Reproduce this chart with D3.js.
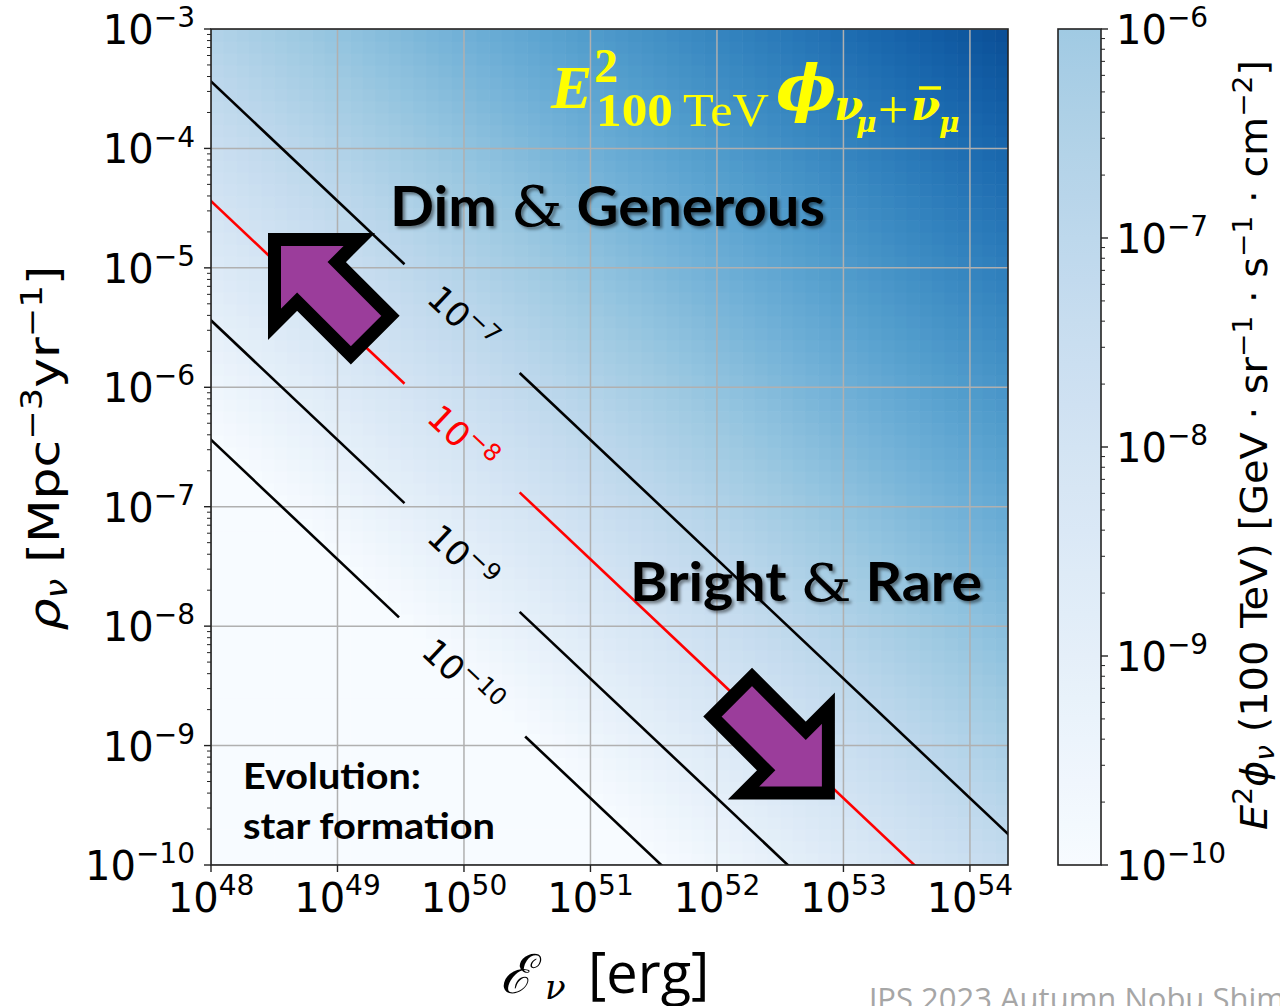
<!DOCTYPE html>
<html>
<head>
<meta charset="utf-8">
<script src="https://cdn.jsdelivr.net/npm/d3@7/dist/d3.min.js"></script>
<style>
  body { margin: 0; background: #fff; }
  svg { display: block; }
</style>
</head>
<body>
<script>
// values (all in log10)
var energyTicks = [48, 49, 50, 51, 52, 53, 54];          // erg
var rateTicks = [-10, -9, -8, -7, -6, -5, -4, -3];        // Mpc^-3 yr^-1
var fluxTicks = [-10, -9, -8, -7, -6];                     // GeV sr^-1 s^-1 cm^-2
var contourLevels = [-7, -8, -9, -10];
var highlightLevel = -8;
var energyDomain = [48, 54.301];
var rateDomain = [-10, -3];
var refLevel = -8, refRhoE = 43.56;   // the 1e-8 contour sits on rho*E = 10^43.56
var colorTop = 1;                      // log10 flux that maps to the darkest blue
var cellStep = 0.1;                    // decades per mesh cell

var W = 1280, H = 1006;
var margin = {left: 211, top: 29, right: 1008, bottom: 865};

var svg = d3.select("body").append("svg")
    .attr("width", W).attr("height", H)
    .style("font-family", "'DejaVu Sans', sans-serif");

var defs = svg.append("defs");
defs.append("clipPath").attr("id", "plotclip")
  .append("rect")
    .attr("x", margin.left).attr("y", margin.top)
    .attr("width", margin.right - margin.left)
    .attr("height", margin.bottom - margin.top);
var shadow = defs.append("filter").attr("id", "shadow")
    .attr("x", "-10%").attr("y", "-20%").attr("width", "130%").attr("height", "160%");
shadow.append("feDropShadow")
    .attr("dx", 2.5).attr("dy", 2.5).attr("stdDeviation", 1.6)
    .attr("flood-color", "#000").attr("flood-opacity", 0.45);

var x = d3.scaleLog().domain(energyDomain.map(function(d) { return Math.pow(10, d); }))
    .range([margin.left, margin.right]);
var y = d3.scaleLog().domain(rateDomain.map(function(d) { return Math.pow(10, d); }))
    .range([margin.bottom, margin.top]);

function fluxAt(logE, logRho) {
  return refLevel + (logE + logRho - refRhoE);
}
function colorOf(logFlux) {
  var t = (logFlux - fluxTicks[0]) / (colorTop - fluxTicks[0]);
  return d3.interpolateBlues(Math.max(0, Math.min(1, t)));
}

// ---- heat map mesh
var cells = [];
d3.range(energyDomain[0], energyDomain[1], cellStep).forEach(function(le) {
  d3.range(rateDomain[0], rateDomain[1], cellStep).forEach(function(lr) {
    cells.push({e0: le, e1: Math.min(le + cellStep, energyDomain[1]), r0: lr, r1: lr + cellStep,
                v: fluxAt(le + cellStep / 2, lr + cellStep / 2)});
  });
});
var plot = svg.append("g").attr("clip-path", "url(#plotclip)");
plot.append("g").selectAll("rect")
    .data(cells)
  .enter().append("rect")
    .attr("x", function(d) { return x(Math.pow(10, d.e0)); })
    .attr("y", function(d) { return y(Math.pow(10, d.r1)); })
    .attr("width", function(d) { return x(Math.pow(10, d.e1)) - x(Math.pow(10, d.e0)) + 0.6; })
    .attr("height", function(d) { return y(Math.pow(10, d.r0)) - y(Math.pow(10, d.r1)) + 0.6; })
    .attr("fill", function(d) { return colorOf(d.v); });

// grid
var grid = plot.append("g").attr("stroke", "#b0b0b0").attr("stroke-width", 1.5);
grid.selectAll(".gx").data(energyTicks).enter().append("line")
    .attr("x1", function(d) { return x(Math.pow(10, d)); })
    .attr("x2", function(d) { return x(Math.pow(10, d)); })
    .attr("y1", margin.top).attr("y2", margin.bottom);
grid.selectAll(".gy").data(rateTicks).enter().append("line")
    .attr("y1", function(d) { return y(Math.pow(10, d)); })
    .attr("y2", function(d) { return y(Math.pow(10, d)); })
    .attr("x1", margin.left).attr("x2", margin.right);

// write "10^k" into a text element
function pow10(sel, k, size) {
  sel.append("tspan").text("10");
  sel.append("tspan").attr("font-size", size * 0.7).attr("dy", -size * 0.42)
    .text(k < 0 ? "\u2212" + (-k) : k);
}

// ---- contour lines with inline labels
var lineSlope = Math.atan2(y(1e-5) - y(1e-4), x(1e49) - x(1e48)) * 180 / Math.PI;
var pxPerDecade = Math.hypot(x(1e49) - x(1e48), y(1e-5) - y(1e-4));
var labelE = 49.985;
var contourG = plot.append("g");
contourLevels.forEach(function(level) {
  var sum = refRhoE + (level - refLevel);
  var col = level === highlightLevel ? "#ff0000" : "#000";
  var lx = x(Math.pow(10, labelE)), ly = y(Math.pow(10, sum - labelE));
  var lab = contourG.append("text")
      .attr("transform", "translate(" + lx + "," + ly + ") rotate(" + lineSlope + ")")
      .attr("text-anchor", "middle").attr("dy", "0.36em")
      .attr("font-size", 34).attr("fill", col);
  pow10(lab, level, 34);
  var half = (lab.node().getComputedTextLength() + 80) / 2 / pxPerDecade;
  var segs = [[energyDomain[0] - 0.5, labelE - half], [labelE + half, energyDomain[1] + 0.5]];
  segs.forEach(function(s) {
    var pts = s.map(function(le) { return [Math.pow(10, le), Math.pow(10, sum - le)]; });
    contourG.append("path")
        .attr("d", d3.line().x(function(p) { return x(p[0]); }).y(function(p) { return y(p[1]); })(pts))
        .attr("stroke", col).attr("stroke-width", 2.6).attr("fill", "none");
  });
});

// ---- axes frame
svg.append("rect")
    .attr("x", margin.left).attr("y", margin.top)
    .attr("width", margin.right - margin.left).attr("height", margin.bottom - margin.top)
    .attr("fill", "none").attr("stroke", "#222").attr("stroke-width", 1.6);

// x ticks
var xt = svg.append("g");
energyTicks.forEach(function(k) {
  var px = x(Math.pow(10, k));
  xt.append("line").attr("x1", px).attr("x2", px).attr("y1", margin.bottom).attr("y2", margin.bottom + 7)
    .attr("stroke", "#222").attr("stroke-width", 1.4);
  var t = xt.append("text").attr("x", px).attr("y", margin.bottom + 47)
      .attr("text-anchor", "middle").attr("font-size", 40);
  pow10(t, k, 40);
});

// y ticks + minor
var yt = svg.append("g");
rateTicks.forEach(function(k) {
  var py = y(Math.pow(10, k));
  yt.append("line").attr("x1", margin.left - 7).attr("x2", margin.left).attr("y1", py).attr("y2", py)
    .attr("stroke", "#222").attr("stroke-width", 1.4);
  var t = yt.append("text").attr("x", margin.left - 16).attr("y", py + 15)
      .attr("text-anchor", "end").attr("font-size", 40);
  pow10(t, k, 40);
  if (k < rateDomain[1]) d3.range(2, 10).forEach(function(m) {
    var pm = y(m * Math.pow(10, k));
    yt.append("line").attr("x1", margin.left - 4).attr("x2", margin.left).attr("y1", pm).attr("y2", pm)
      .attr("stroke", "#222").attr("stroke-width", 1);
  });
});

// axis titles
var xl = svg.append("g").attr("transform", "translate(500,993)");
xl.append("text").attr("font-family", "'DejaVu Serif', serif").attr("font-style", "italic")
    .attr("font-size", 54).text("\u2130");
xl.append("text").attr("x", 45).attr("y", 6).attr("font-family", "'DejaVu Serif', serif")
    .attr("font-style", "italic").attr("font-size", 34).text("\u03bd");
xl.append("text").attr("x", 88).attr("font-family", "'Open Sans', sans-serif")
    .attr("font-size", 56).text("[erg]");

var yl = svg.append("text").attr("transform", "translate(59,448) rotate(-90)")
    .attr("text-anchor", "middle").attr("font-size", 43)
    .attr("textLength", 365).attr("lengthAdjust", "spacingAndGlyphs");
yl.append("tspan").attr("font-style", "italic").text("\u03c1");
yl.append("tspan").attr("font-style", "italic").attr("font-size", 30).attr("dy", 8).text("\u03bd");
yl.append("tspan").attr("dy", -8).text(" [Mpc");
yl.append("tspan").attr("font-size", 30).attr("dy", -17).text("\u22123");
yl.append("tspan").attr("dy", 17).text("yr");
yl.append("tspan").attr("font-size", 30).attr("dy", -17).text("\u22121");
yl.append("tspan").attr("dy", 17).text("]");

// ---- colorbar
var cb = {x0: 1058, x1: 1101};
var yc = d3.scaleLog().domain([Math.pow(10, fluxTicks[0]), Math.pow(10, fluxTicks[fluxTicks.length - 1])])
    .range([margin.bottom, margin.top]);
var grad = defs.append("linearGradient").attr("id", "cbgrad")
    .attr("x1", 0).attr("x2", 0).attr("y1", 1).attr("y2", 0);
d3.range(0, 1.0001, 0.05).forEach(function(f) {
  var lv = fluxTicks[0] + f * (fluxTicks[fluxTicks.length - 1] - fluxTicks[0]);
  grad.append("stop").attr("offset", f).attr("stop-color", colorOf(lv));
});
svg.append("rect").attr("x", cb.x0).attr("y", margin.top)
    .attr("width", cb.x1 - cb.x0).attr("height", margin.bottom - margin.top)
    .attr("fill", "url(#cbgrad)").attr("stroke", "#222").attr("stroke-width", 1.6);
var ct = svg.append("g");
fluxTicks.forEach(function(k) {
  var py = yc(Math.pow(10, k));
  ct.append("line").attr("x1", cb.x1).attr("x2", cb.x1 + 7).attr("y1", py).attr("y2", py)
    .attr("stroke", "#222").attr("stroke-width", 1.4);
  var t = ct.append("text").attr("x", cb.x1 + 15).attr("y", py + 15).attr("font-size", 40);
  pow10(t, k, 40);
  if (k < fluxTicks[fluxTicks.length - 1]) d3.range(2, 10).forEach(function(m) {
    var pm = yc(m * Math.pow(10, k));
    ct.append("line").attr("x1", cb.x1).attr("x2", cb.x1 + 4).attr("y1", pm).attr("y2", pm)
      .attr("stroke", "#222").attr("stroke-width", 1);
  });
});
var cl = svg.append("text").attr("transform", "translate(1267,445) rotate(-90)")
    .attr("text-anchor", "middle").attr("font-size", 37)
    .attr("textLength", 770).attr("lengthAdjust", "spacingAndGlyphs");
cl.append("tspan").attr("font-style", "italic").text("E");
cl.append("tspan").attr("font-size", 26).attr("dy", -15).text("2");
cl.append("tspan").attr("font-style", "italic").attr("dy", 15).text("\u03d5");
cl.append("tspan").attr("font-style", "italic").attr("font-size", 26).attr("dy", 7).text("\u03bd");
cl.append("tspan").attr("dy", -7).text(" (100 TeV) [GeV \u00b7 sr");
cl.append("tspan").attr("font-size", 26).attr("dy", -15).text("\u22121");
cl.append("tspan").attr("dy", 15).text(" \u00b7 s");
cl.append("tspan").attr("font-size", 26).attr("dy", -15).text("\u22121");
cl.append("tspan").attr("dy", 15).text(" \u00b7 cm");
cl.append("tspan").attr("font-size", 26).attr("dy", -15).text("\u22122");
cl.append("tspan").attr("dy", 15).text("]");

// ---- slide overlays
var ann = svg.append("g");

// yellow formula
var yel = ann.append("g").attr("fill", "#ffff00").attr("font-family", "'Liberation Serif', serif")
    .attr("font-weight", "bold");
var greek = "'DejaVu Serif', serif";
yel.append("text").attr("x", 551).attr("y", 108).attr("font-style", "italic").attr("font-size", 62).text("E");
yel.append("text").attr("x", 594).attr("y", 82).attr("font-size", 48).text("2");
yel.append("text").attr("x", 596).attr("y", 126).attr("font-size", 46)
    .attr("textLength", 77).attr("lengthAdjust", "spacingAndGlyphs").text("100");
yel.append("text").attr("x", 683).attr("y", 126).attr("font-size", 46).attr("font-weight", "normal")
    .attr("textLength", 86).attr("lengthAdjust", "spacingAndGlyphs").text("TeV");
yel.append("text").attr("x", 776).attr("y", 110).attr("font-family", greek).attr("font-style", "italic")
    .attr("font-size", 64).text("\u03d5");
yel.append("text").attr("x", 834).attr("y", 120).attr("font-family", greek).attr("font-style", "italic")
    .attr("font-size", 42).text("\u03bd");
yel.append("text").attr("x", 856).attr("y", 132).attr("font-family", greek).attr("font-style", "italic")
    .attr("font-size", 28).text("\u03bc");
yel.append("text").attr("x", 878).attr("y", 128).attr("font-size", 54).attr("font-weight", "normal").text("+");
yel.append("text").attr("x", 911).attr("y", 120).attr("font-family", greek).attr("font-style", "italic")
    .attr("font-size", 42).text("\u03bd");
yel.append("line").attr("x1", 919).attr("x2", 941).attr("y1", 88).attr("y2", 88)
    .attr("stroke", "#ffff00").attr("stroke-width", 3.5);
yel.append("text").attr("x", 939).attr("y", 132).attr("font-family", greek).attr("font-style", "italic")
    .attr("font-size", 28).text("\u03bc");

function bigLabel(a, b, px, py, size, len) {
  var t = ann.append("text").attr("x", px).attr("y", py)
      .attr("font-family", "Lato, 'Open Sans', sans-serif").attr("font-weight", "bold")
      .attr("font-size", size).attr("fill", "#000").attr("filter", "url(#shadow)")
      .attr("textLength", len).attr("lengthAdjust", "spacingAndGlyphs");
  t.append("tspan").text(a + " ");
  t.append("tspan").attr("font-family", "'DejaVu Serif', serif").attr("font-weight", "normal").text("&");
  t.append("tspan").text(" " + b);
}
bigLabel("Dim", "Generous", 390, 226, 56, 435);
bigLabel("Bright", "Rare", 630, 601, 53, 352);

ann.append("text").attr("x", 243).attr("y", 789)
    .attr("font-family", "Lato, sans-serif").attr("font-weight", "bold").attr("font-size", 36)
    .attr("textLength", 178).attr("lengthAdjust", "spacingAndGlyphs").text("Evolution:");
ann.append("text").attr("x", 243).attr("y", 839)
    .attr("font-family", "Lato, sans-serif").attr("font-weight", "bold").attr("font-size", 36)
    .attr("textLength", 252).attr("lengthAdjust", "spacingAndGlyphs").text("star formation");

// block arrows, tip at (0,0), body along +x
var arrowPts = [[0, 0], [60, -60], [60, -28], [136, -28], [136, 28], [60, 28], [60, 60]];
function blockArrow(logE, logRho, angle) {
  ann.append("path")
      .attr("d", d3.line()(arrowPts) + "Z")
      .attr("transform", "translate(" + x(Math.pow(10, logE)) + "," + y(Math.pow(10, logRho)) + ") rotate(" + angle + ")")
      .attr("fill", "#9b3d9b").attr("stroke", "#000").attr("stroke-width", 13)
      .attr("stroke-linejoin", "miter").attr("stroke-miterlimit", 10);
}
blockArrow(48.502, -4.762, 45);
blockArrow(52.881, -9.397, 225);

// footer
ann.append("text").attr("x", 869).attr("y", 1010)
    .attr("font-family", "'Open Sans', sans-serif").attr("font-size", 31).attr("fill", "#a6a6a6")
    .text("JPS 2023 Autumn Nobu Shimizu");
</script>
</body>
</html>
